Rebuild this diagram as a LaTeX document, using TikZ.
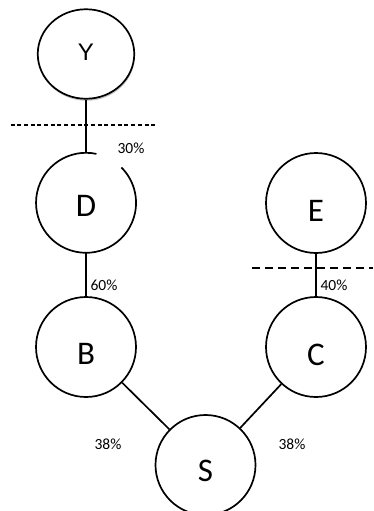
\documentclass[tikz,border=0pt]{standalone}
\usepackage{fontspec}
\setmainfont{Carlito}
\newfontfamily\yfont{Liberation Sans}
\usetikzlibrary{shapes.geometric,shadows}
\begin{document}
\begin{tikzpicture}[x=1pt,y=-1pt,
  circ/.style={circle, draw, line width=1.7pt, minimum size=100pt, inner sep=0pt, fill=white},
  opencirc/.style={circle, minimum size=100pt, inner sep=0pt},
  letter/.style={inner sep=0pt, font=\fontsize{33}{33}\selectfont},
  yletter/.style={inner sep=0pt, font=\yfont\fontsize{24}{24}\selectfont},
  pct/.style={inner sep=0pt, font=\fontsize{15.5}{15.5}\selectfont},
  edge/.style={line width=1.7pt},
  cutA/.style={line width=1.6pt, dash pattern=on 4pt off 2.7pt},
  cutB/.style={line width=1.6pt, dash pattern=on 8pt off 5pt}
]
\useasboundingbox (0,0) rectangle (373,511);

% nodes
\node[ellipse, draw, line width=1.7pt, fill=white, minimum width=96.5pt, minimum height=89.5pt, inner sep=0pt,
      drop shadow={shadow xshift=0.6pt, shadow yshift=-2pt, opacity=0.4, fill=black!60}] (Y) at (86,54) {};
\node[opencirc] (D) at (86,203) {};
\node[circ] (E) at (316,203) {};
\node[circ] (B) at (86,347) {};
\node[circ] (C) at (316,347) {};
\node[circ] (S) at (205.5,465) {};

% open circle D (gap at upper right)
\draw[edge] (D.78) arc[start angle=78, end angle=405, radius=50pt];

% letters
\node[yletter] (Yt) at (86,52) {Y};
\node[letter] (Dt) at (86,206) {D};
\node[letter] (Et) at (316,211) {E};
\node[letter] (Bt) at (86,354) {B};
\node[letter] (Ct) at (316,354.5) {C};
\node[letter] (St) at (205.5,471) {S};

% connectors
\draw[edge] (Y) -- (D);
\draw[edge] (D) -- (B);
\draw[edge] (E) -- (C);
\draw[edge] (B) -- (S);
\draw[edge] (C) -- (S);

% cut lines
\coordinate (cutAl) at (10.5,125);
\coordinate (cutAr) at (155,125);
\coordinate (cutBl) at (252,267.7);
\coordinate (cutBr) at (373,267.7);
\draw[cutA] (cutAl) -- (cutAr);
\draw[cutB] (cutBl) -- (cutBr);

% percentages
\node[pct] (p30) at (131,148) {30\%};
\node[pct] (p60) at (104,285) {60\%};
\node[pct] (p40) at (334,285) {40\%};
\node[pct] (p38l) at (108,444) {38\%};
\node[pct] (p38r) at (292,444) {38\%};
\end{tikzpicture}
\end{document}
